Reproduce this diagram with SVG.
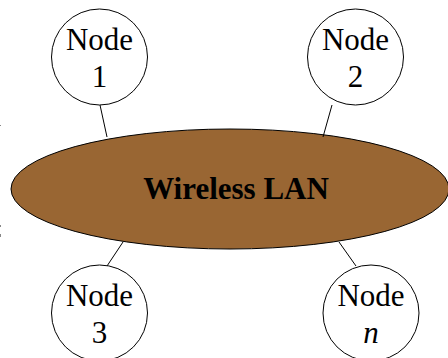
<svg xmlns="http://www.w3.org/2000/svg" width="448" height="358" viewBox="0 0 448 358">
<style>
.node circle{fill:#fff;stroke:#000;stroke-width:1}
.lbl{font-family:"Liberation Serif","Times New Roman",serif;font-size:31px;text-anchor:middle;fill:#000}
.conn line{stroke:#000;stroke-width:1}
</style>
<rect width="448" height="358" fill="#fff"/>
<g id="lan">
<ellipse cx="230" cy="189" rx="219" ry="60" fill="#996633" stroke="#000" stroke-width="1"/>
<text x="236" y="199" class="lbl" style="font-weight:bold">Wireless LAN</text>
</g>
<g id="connectors" class="conn">
<line x1="100" y1="105" x2="107" y2="137"/>
<line x1="332" y1="105" x2="323" y2="137"/>
<line x1="123" y1="242" x2="107" y2="266"/>
<line x1="339" y1="242" x2="356" y2="266"/>
</g>
<g id="node1" class="node">
<circle cx="99.5" cy="57" r="48"/>
<text x="99.5" y="50" class="lbl">Node</text>
<text x="99.5" y="87" class="lbl">1</text>
</g>
<g id="node2" class="node">
<circle cx="355.5" cy="57" r="48"/>
<text x="355.5" y="50" class="lbl">Node</text>
<text x="355.5" y="87" class="lbl">2</text>
</g>
<g id="node3" class="node">
<circle cx="99.5" cy="313" r="48"/>
<text x="99.5" y="306" class="lbl">Node</text>
<text x="99.5" y="343" class="lbl">3</text>
</g>
<g id="noden" class="node">
<circle cx="371" cy="313" r="48"/>
<text x="371" y="306" class="lbl">Node</text>
<text x="371" y="343" class="lbl" style="font-style:italic">n</text>
</g>
<g fill="#888">
<rect x="0" y="125" width="1" height="1"/>
<rect x="0" y="225" width="1" height="2"/>
<rect x="0" y="234" width="1" height="3"/>
</g>
</svg>
